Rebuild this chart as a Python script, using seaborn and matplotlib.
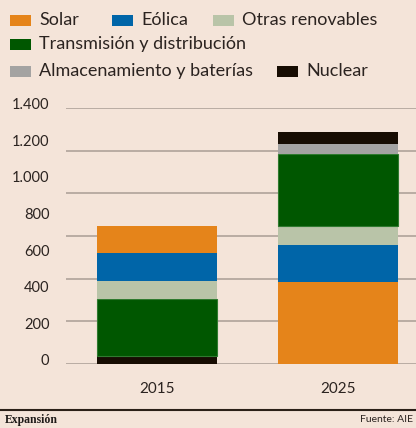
import numpy as np
import matplotlib
matplotlib.use('Agg')
import matplotlib.pyplot as plt
import matplotlib.transforms as mtransforms
from matplotlib.patches import Rectangle
import seaborn as sns

# Data (values in the chart's units)
years = ['2015', '2025']
categories = ['Solar', 'Eólica', 'Otras renovables', 'Transmisión y distribución',
              'Almacenamiento y baterías', 'Nuclear']
values = {
    '2015': [148, 153, 98, 313, 0, 45],
    '2025': [451, 202, 102, 394, 56, 66],
}
# stacking order bottom -> top for each bar (as in the original)
stack_order = {
    '2015': ['Nuclear', 'Almacenamiento y baterías', 'Transmisión y distribución',
             'Otras renovables', 'Eólica', 'Solar'],
    '2025': ['Solar', 'Eólica', 'Otras renovables', 'Transmisión y distribución',
             'Almacenamiento y baterías', 'Nuclear'],
}
yticks = [0, 200, 400, 600, 800, 1000, 1200, 1400]
ytick_labels = ['0', '200', '400', '600', '800', '1.000', '1.200', '1.400']

colors = {
    'Solar': '#E5841A',
    'Eólica': '#0065A8',
    'Otras renovables': '#B9C4A8',
    'Transmisión y distribución': '#005700',
    'Almacenamiento y baterías': '#A4A3A2',
    'Nuclear': '#170C02',
}
BG = '#F4E4D9'
TXT = '#2B2320'

sns.set_theme(style='white')
plt.rcParams['font.family'] = ['Lato', 'DejaVu Sans']

fig = plt.figure(figsize=(4.16, 4.28), dpi=100, facecolor=BG)
ax = fig.add_axes([66 / 416, 64 / 428, 350 / 416, 256 / 428])
ax.set_facecolor(BG)

# gridlines (the original uses 6 equal intervals)
for g in np.linspace(0, 1400, 7):
    ax.axhline(g, color='#A99D94', lw=1.1, zorder=1)

x = np.arange(len(years))
for i, yr in enumerate(years):
    bottom = 0
    for cat in stack_order[yr]:
        v = values[yr][categories.index(cat)]
        if v == 0:
            continue
        edge = '#2F7A2F' if cat == 'Transmisión y distribución' else 'none'
        ax.bar(x[i], v, bottom=bottom, width=0.663, color=colors[cat],
               edgecolor=edge, linewidth=0.8, zorder=3)
        bottom += v

ax.set_xlim(-0.503, 1.431)
ax.set_ylim(0, 1400)
ax.set_xticks(x)
ax.set_xticklabels(years, fontsize=11, color=TXT)
ax.set_yticks(yticks)
ax.set_yticklabels(ytick_labels, fontsize=10.5, color=TXT)
ax.tick_params(axis='x', length=0, pad=13)
ax.tick_params(axis='y', length=0, pad=12)
for lbl in ax.get_yticklabels():
    lbl.set_transform(lbl.get_transform() +
                      mtransforms.ScaledTranslation(0, 3 / 72, fig.dpi_scale_trans))
sns.despine(ax=ax, left=True, bottom=True, top=True, right=True)

# legend drawn by hand (irregular rows like the original)
W, H = 416, 428
legend_items = [
    ('Solar', 10, 20), ('Eólica', 112, 20), ('Otras renovables', 213, 20),
    ('Transmisión y distribución', 10, 44),
    ('Almacenamiento y baterías', 10, 71), ('Nuclear', 277, 71),
]
for cat, px, py in legend_items:
    fig.add_artist(Rectangle((px / W, (H - py - 5.5) / H), 21 / W, 11 / H,
                             transform=fig.transFigure, color=colors[cat], lw=0))
    fig.text((px + 29) / W, (H - py) / H, cat, fontsize=13, color=TXT,
             va='center', ha='left')

# footer
fig.add_artist(plt.Line2D([0, 1], [(H - 410) / H] * 2, transform=fig.transFigure,
                          color='#2B2018', lw=1.5))
fig.text(5 / W, (H - 420) / H, 'Expansión', fontsize=8.5, fontweight='bold',
         family='Liberation Serif', color='#1E1A18', va='center', ha='left')
fig.text(413 / W, (H - 420) / H, 'Fuente: AIE', fontsize=7.5, color=TXT,
         va='center', ha='right')

fig.savefig('out.png', dpi=100, facecolor=BG)
